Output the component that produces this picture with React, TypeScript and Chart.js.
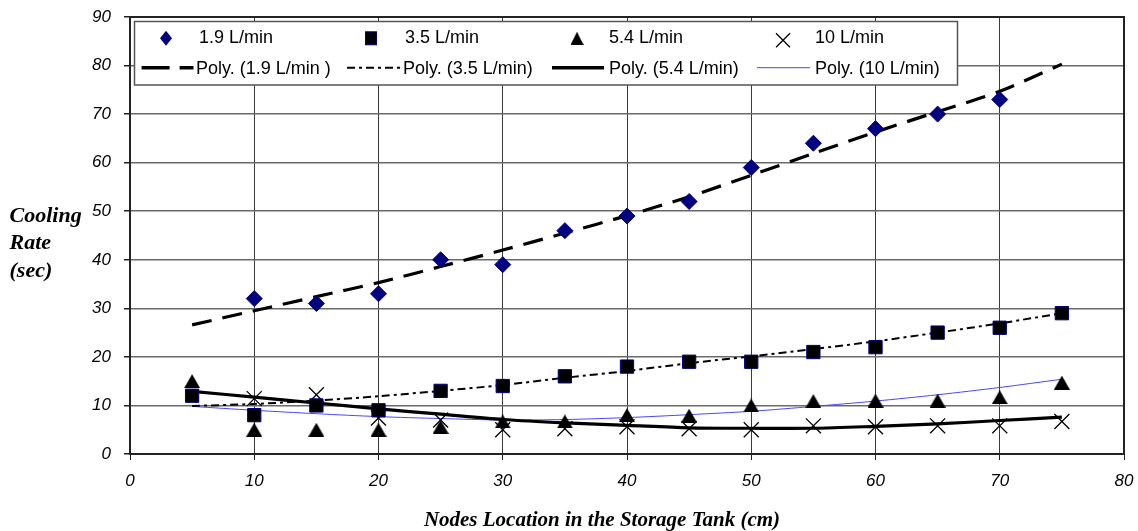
import React, { useEffect, useRef } from 'react';
import { Chart, registerables } from 'chart.js';

Chart.register(...registerables);

// ---- data ----
const xNodes = [5, 10, 15, 20, 25, 30, 35, 40, 45, 50, 55, 60, 65, 70, 75];
const rate19 = [null, 32, 31, 33, 40, 39, 46, 49, 52, 59, 64, 67, 70, 73, null];
const rate35 = [12, 8, 10, 9, 13, 14, 16, 18, 19, 19, 21, 22, 25, 26, 29];
const rate54 = [15, 5, 5, 5, 5.6, 6.7, 6.7, 8, 7.9, 10, 10.9, 11, 11, 11.7, 14.7];
const rate10 = [null, 11.4, 12.2, 7.4, 7, 5, 5.2, 5.6, 5.2, 5, 5.8, 5.6, 5.8, 5.8, 6.7];
const poly19 = [26.6, 29.5, 32.4, 35.3, 38.6, 42.0, 45.5, 49.1, 53.0, 57.4, 61.9, 66.3, 70.5, 74.7, 80.3];
const poly35 = [9.9, 10.3, 11.0, 11.9, 13.0, 14.2, 15.7, 17.1, 18.7, 20.1, 21.6, 23.2, 25.0, 26.9, 29.0];
const poly54 = [12.9, 11.7, 10.5, 9.3, 8.2, 7.1, 6.4, 5.9, 5.4, 5.3, 5.3, 5.7, 6.2, 6.9, 7.6];
const poly10 = [9.8, 9.0, 8.3, 7.7, 7.3, 7.0, 7.1, 7.5, 8.1, 8.8, 9.8, 10.9, 12.2, 13.7, 15.4];

const seriesLabels = ['1.9 L/min', '3.5 L/min', '5.4 L/min', '10 L/min'];
const trendLabels = ['Poly. (1.9 L/min )', 'Poly. (3.5 L/min)', 'Poly. (5.4 L/min)', 'Poly. (10 L/min)'];
const xTitle = 'Nodes Location in the Storage Tank (cm)';
const yTitleLines = ['Cooling', 'Rate', '(sec)'];

const NAVY = '#000080';
const BLUE = '#4646ff';

const toPts = (ys: (number | null)[]) =>
  xNodes.map((x, i) => ({ x, y: ys[i] })).filter((p) => p.y !== null) as { x: number; y: number }[];

function makeTriangle(w: number, h: number): HTMLCanvasElement {
  const c = document.createElement('canvas');
  c.width = w;
  c.height = h;
  const g = c.getContext('2d')!;
  g.fillStyle = '#000';
  g.beginPath();
  g.moveTo(w / 2, 0);
  g.lineTo(w, h);
  g.lineTo(0, h);
  g.closePath();
  g.fill();
  return c;
}

export default function App() {
  const ref = useRef<HTMLCanvasElement | null>(null);

  useEffect(() => {
    if (!ref.current) return;
    const tri = makeTriangle(16, 14);

    const drawDiamond = (ctx: CanvasRenderingContext2D, x: number, y: number, rx: number, ry: number) => {
      ctx.beginPath();
      ctx.moveTo(x, y - ry);
      ctx.lineTo(x + rx, y);
      ctx.lineTo(x, y + ry);
      ctx.lineTo(x - rx, y);
      ctx.closePath();
      ctx.fillStyle = NAVY;
      ctx.fill();
    };

    const overlay = {
      id: 'overlay',
      afterDraw(chart: any) {
        const ctx: CanvasRenderingContext2D = chart.ctx;
        const a = chart.chartArea;
        ctx.save();
        // plot frame
        ctx.strokeStyle = '#222';
        ctx.lineWidth = 2;
        ctx.strokeRect(a.left, a.top, a.right - a.left, a.bottom - a.top);

        // legend box
        ctx.fillStyle = '#fff';
        ctx.fillRect(134.5, 21.5, 823, 63.5);
        ctx.strokeStyle = '#555';
        ctx.lineWidth = 1.5;
        ctx.strokeRect(134.5, 21.5, 823, 63.5);

        ctx.font = '18px "Liberation Sans", Arial, sans-serif';
        ctx.fillStyle = '#000';
        ctx.textAlign = 'left';
        ctx.textBaseline = 'alphabetic';
        const r1 = 38.3;
        const colMark = [166, 371, 577, 783];
        const colText1 = [199, 405, 609, 815];
        // markers row 1
        drawDiamond(ctx, colMark[0], r1, 6, 7.5);
        ctx.fillStyle = '#000';
        ctx.fillRect(colMark[1] - 5.5, r1 - 6.5, 11, 13);
        ctx.strokeStyle = NAVY;
        ctx.lineWidth = 1;
        ctx.strokeRect(colMark[1] - 5.5, r1 - 6.5, 11, 13);
        ctx.drawImage(tri, colMark[2] - 6.5, r1 - 6.5, 13, 13);
        ctx.strokeStyle = '#000';
        ctx.lineWidth = 1.3;
        ctx.beginPath();
        ctx.moveTo(colMark[3] - 7, r1 - 5);
        ctx.lineTo(colMark[3] + 7, r1 + 9);
        ctx.moveTo(colMark[3] + 7, r1 - 5);
        ctx.lineTo(colMark[3] - 7, r1 + 9);
        ctx.stroke();
        ctx.fillStyle = '#000';
        seriesLabels.forEach((t, i) => ctx.fillText(t, colText1[i], 43.3));

        // row 2 line samples
        const r2 = 67.7;
        const samples: [number, number, number[], number, string][] = [
          [141.6, 193.5, [28, 10], 3.5, '#000'],
          [347, 400, [8, 4, 3, 4], 2, '#000'],
          [552, 604, [], 3.5, '#000'],
          [757, 810, [], 1, BLUE],
        ];
        samples.forEach(([x0, x1, dash, w, col]) => {
          ctx.beginPath();
          ctx.setLineDash(dash);
          ctx.lineWidth = w;
          ctx.strokeStyle = col;
          ctx.moveTo(x0, r2);
          ctx.lineTo(x1, r2);
          ctx.stroke();
        });
        ctx.setLineDash([]);
        const colText2 = [196, 403, 609, 815];
        ctx.fillStyle = '#000';
        trendLabels.forEach((t, i) => ctx.fillText(t, colText2[i], 74.3));

        // axis titles
        ctx.font = 'bold italic 21px "Liberation Serif", "Times New Roman", serif';
        ctx.textAlign = 'center';
        ctx.fillText(xTitle, 602, 526);
        ctx.font = 'bold italic 22px "Liberation Serif", "Times New Roman", serif';
        ctx.textAlign = 'left';
        const yBases = [222, 249.3, 276.7];
        yTitleLines.forEach((t, i) => ctx.fillText(t, 9.5, yBases[i]));
        ctx.restore();
      },
    };

    const tickFont = { family: '"Liberation Sans", Arial, sans-serif', size: 17, style: 'italic' as const };

    const chart = new Chart(ref.current, {
      type: 'scatter',
      data: {
        datasets: [
          {
            label: seriesLabels[0],
            data: toPts(rate19),
            pointStyle: 'rectRot',
            pointRadius: 8,
            pointHoverRadius: 8,
            backgroundColor: NAVY,
            borderColor: NAVY,
            borderWidth: 1,
          },
          {
            label: seriesLabels[1],
            data: toPts(rate35),
            pointStyle: 'rect',
            pointRadius: 9.4,
            pointHoverRadius: 9.4,
            backgroundColor: '#000',
            borderColor: NAVY,
            borderWidth: 1,
          },
          {
            label: seriesLabels[2],
            data: toPts(rate54),
            pointStyle: tri,
            pointRadius: 8,
            backgroundColor: '#000',
            borderColor: '#000',
          },
          {
            label: seriesLabels[3],
            data: toPts(rate10),
            pointStyle: 'crossRot',
            pointRadius: 10.6,
            pointHoverRadius: 10.6,
            backgroundColor: '#000',
            borderColor: '#000',
            borderWidth: 1.3,
          },
          {
            label: trendLabels[0],
            data: toPts(poly19),
            showLine: true,
            pointRadius: 0,
            borderColor: '#000',
            borderWidth: 3.2,
            borderDash: [20, 11],
            tension: 0.3,
          },
          {
            label: trendLabels[1],
            data: toPts(poly35),
            showLine: true,
            pointRadius: 0,
            borderColor: '#000',
            borderWidth: 2,
            borderDash: [8, 4, 3, 4],
            tension: 0.3,
          },
          {
            label: trendLabels[2],
            data: toPts(poly54),
            showLine: true,
            pointRadius: 0,
            borderColor: '#000',
            borderWidth: 3.2,
            tension: 0.3,
          },
          {
            label: trendLabels[3],
            data: toPts(poly10),
            showLine: true,
            pointRadius: 0,
            borderColor: BLUE,
            borderWidth: 1,
            tension: 0.3,
          },
        ] as any,
      },
      options: {
        responsive: false,
        animation: false,
        devicePixelRatio: 1,
        layout: { padding: { top: 17, right: 14, left: 0, bottom: 0 } },
        plugins: {
          legend: { display: false },
          title: { display: false },
          tooltip: { enabled: false },
        },
        scales: {
          x: {
            type: 'linear',
            min: 0,
            max: 80,
            ticks: { stepSize: 10, font: tickFont, color: '#000', padding: 11, maxRotation: 0 },
            grid: { color: '#3a3a3a', lineWidth: 1, tickLength: 6, tickColor: '#222' },
            border: { color: '#222', width: 2 },
            afterFit: (s: any) => {
              s.height = 77;
              s.paddingLeft = 0;
              s.paddingRight = 0;
            },
          },
          y: {
            type: 'linear',
            min: 0,
            max: 90,
            ticks: { stepSize: 10, font: tickFont, color: '#000', padding: 13 },
            grid: { color: '#6a6a6a', lineWidth: 1.5, tickLength: 6, tickColor: '#222' },
            border: { color: '#222', width: 2 },
            afterFit: (s: any) => {
              s.width = 130;
              s.paddingTop = 0;
              s.paddingBottom = 0;
            },
          },
        },
      } as any,
      plugins: [overlay],
    });
    return () => chart.destroy();
  }, []);

  return (
    <div style={{ position: 'absolute', left: 0, top: 0, width: 1138, height: 531, background: '#fff' }}>
      <canvas ref={ref} width={1138} height={531} style={{ display: 'block' }} />
    </div>
  );
}
